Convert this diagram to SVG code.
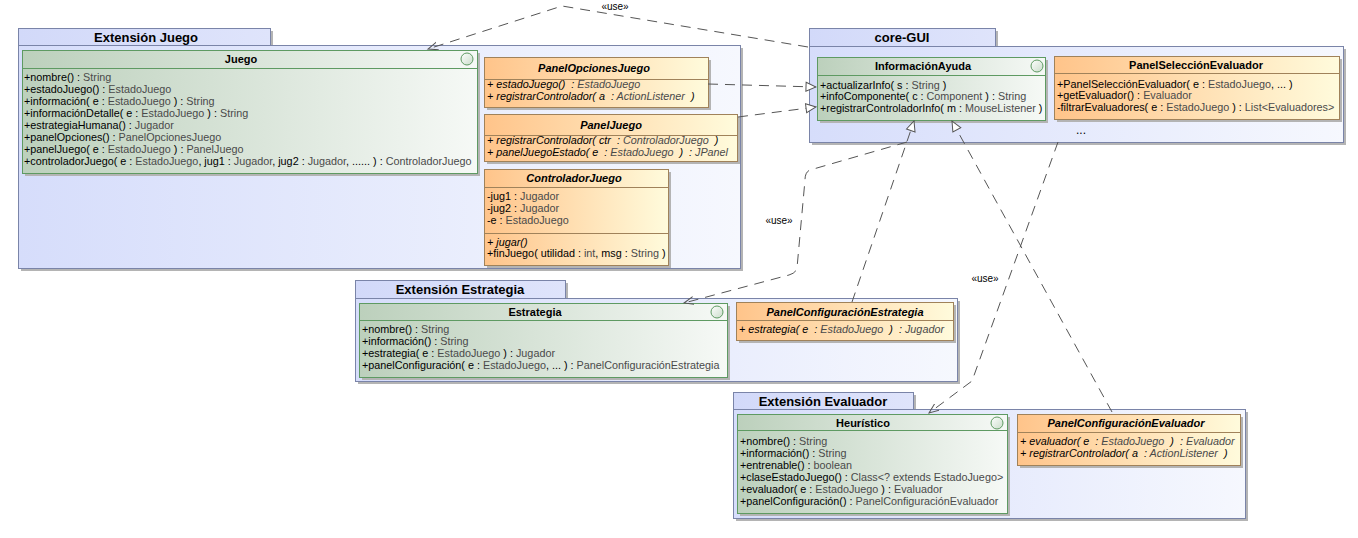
<svg xmlns="http://www.w3.org/2000/svg" width="1358" height="538" viewBox="0 0 1358 538">
<defs>
<linearGradient id="gPkg" x1="0" y1="0" x2="1" y2="0"><stop offset="0" stop-color="#d6ddfb"/><stop offset="1" stop-color="#f6f8fe"/></linearGradient>
<linearGradient id="gTab" x1="0" y1="0" x2="1" y2="0"><stop offset="0" stop-color="#d2d9f9"/><stop offset="1" stop-color="#dfe4fb"/></linearGradient>
<linearGradient id="gInt" x1="0" y1="0" x2="1" y2="0"><stop offset="0" stop-color="#bcd0bc"/><stop offset="1" stop-color="#f6f9f6"/></linearGradient>
<linearGradient id="gCls" x1="0" y1="0" x2="1" y2="0"><stop offset="0" stop-color="#ffc48a"/><stop offset="1" stop-color="#fffbdc"/></linearGradient>
<linearGradient id="gCir" x1="0" y1="0" x2="1" y2="1"><stop offset="0" stop-color="#ffffff"/><stop offset="1" stop-color="#c9dcc9"/></linearGradient>
<marker id="vee" markerWidth="12" markerHeight="10" refX="10" refY="4" orient="auto" markerUnits="userSpaceOnUse"><path d="M0,0 L10,4 L0,8" fill="none" stroke="#555" stroke-width="1"/></marker>
<marker id="tri" markerWidth="12" markerHeight="12" refX="11" refY="5.5" orient="auto" markerUnits="userSpaceOnUse"><path d="M1,1 L11,5.5 L1,10 Z" fill="#fff" stroke="#555" stroke-width="1"/></marker>
</defs>
<style>
text{font-family:"Liberation Sans",Arial,sans-serif;fill:#000}
.pk{font-size:13px;font-weight:bold;text-anchor:middle}
.hd{font-size:11px;font-weight:bold;text-anchor:middle}
.hi{font-size:11px;font-weight:bold;font-style:italic;text-anchor:middle}
.m{font-size:10.8px}
.mi{font-size:10.8px;font-style:italic;white-space:pre}
.t{fill:#4a4a4a}
.lbl{font-size:10px;text-anchor:middle}
.sh{fill:#b4b4b4}
.pb{fill:url(#gPkg);stroke:#7a84a8;stroke-width:1}
.pt{fill:url(#gTab);stroke:#7a84a8;stroke-width:1}
.ib{fill:url(#gInt);stroke:#5e9a62;stroke-width:1}
.il{stroke:#5e9a62;stroke-width:1}
.cb{fill:url(#gCls);stroke:#a0825a;stroke-width:1}
.cl{stroke:#a0825a;stroke-width:1}
.cir{fill:url(#gCir);stroke:#5e9a62;stroke-width:1}
.dash{fill:none;stroke:#555;stroke-width:1;stroke-dasharray:10,7}
</style>
<rect width="1358" height="538" fill="#fff"/>

<g id="pkg-extension-juego">
<rect class="sh" x="21" y="31" width="252" height="17"/>
<rect class="sh" x="21" y="48" width="722" height="223"/>
<rect class="pt" x="18.5" y="28.5" width="252" height="17"/>
<rect class="pb" x="18.5" y="45.5" width="722" height="223"/>
<text class="pk" x="146" y="42">Extensión Juego</text>
</g>

<g id="pkg-core-gui">
<rect class="sh" x="812" y="31" width="186" height="18"/>
<rect class="sh" x="812" y="49" width="534" height="96"/>
<rect class="pt" x="809.5" y="28.5" width="186" height="18"/>
<rect class="pb" x="809.5" y="46.5" width="534" height="96"/>
<text class="pk" x="902" y="42">core-GUI</text>
<text class="m" x="1076" y="134" style="font-size:12px">...</text>
</g>

<g id="pkg-extension-estrategia">
<rect class="sh" x="358" y="283" width="210" height="18"/>
<rect class="sh" x="358" y="301" width="602" height="83"/>
<rect class="pt" x="355.5" y="280.5" width="210" height="18"/>
<rect class="pb" x="355.5" y="298.5" width="602" height="83"/>
<text class="pk" x="460" y="294">Extensión Estrategia</text>
</g>

<g id="pkg-extension-evaluador">
<rect class="sh" x="736" y="395" width="180" height="17"/>
<rect class="sh" x="736" y="412" width="512" height="109"/>
<rect class="pt" x="733.5" y="392.5" width="180" height="17"/>
<rect class="pb" x="733.5" y="409.5" width="512" height="109"/>
<text class="pk" x="823" y="406">Extensión Evaluador</text>
</g>

<g id="cls-juego">
<rect class="sh" x="25" y="53" width="455" height="123"/>
<rect class="ib" x="22.5" y="50.5" width="455" height="123"/>
<line class="il" x1="22.5" y1="68.5" x2="477.5" y2="68.5"/>
<text class="hd" x="241" y="63">Juego</text>
<circle class="cir" cx="467" cy="59" r="6"/>
<text class="m" x="24" y="80.8">+nombre() : <tspan class="t">String</tspan></text>
<text class="m" x="24" y="92.8">+estadoJuego() : <tspan class="t">EstadoJuego</tspan></text>
<text class="m" x="24" y="104.8">+información( e : <tspan class="t">EstadoJuego</tspan> ) : <tspan class="t">String</tspan></text>
<text class="m" x="24" y="116.8">+informaciónDetalle( e : <tspan class="t">EstadoJuego</tspan> ) : <tspan class="t">String</tspan></text>
<text class="m" x="24" y="128.8">+estrategiaHumana() : <tspan class="t">Jugador</tspan></text>
<text class="m" x="24" y="140.8">+panelOpciones() : <tspan class="t">PanelOpcionesJuego</tspan></text>
<text class="m" x="24" y="152.8">+panelJuego( e : <tspan class="t">EstadoJuego</tspan> ) : <tspan class="t">PanelJuego</tspan></text>
<text class="m" x="24" y="164.8">+controladorJuego( e : <tspan class="t">EstadoJuego</tspan>, jug1 : <tspan class="t">Jugador</tspan>, jug2 : <tspan class="t">Jugador</tspan>, ...... ) : <tspan class="t">ControladorJuego</tspan></text>
</g>

<g id="cls-panel-opciones-juego">
<rect class="sh" x="487" y="60" width="224" height="50"/>
<rect class="cb" x="484.5" y="57.5" width="224" height="50"/>
<line class="cl" x1="484.5" y1="79.5" x2="708.5" y2="79.5"/>
<text class="hi" x="594" y="72">PanelOpcionesJuego</text>
<text class="mi" x="487" y="88.3">+ estadoJuego()  : <tspan class="t">EstadoJuego</tspan></text>
<text class="mi" x="487" y="99.8">+ registrarControlador( a  : <tspan class="t">ActionListener</tspan>  )</text>
</g>

<g id="cls-panel-juego">
<rect class="sh" x="487" y="117" width="253" height="47"/>
<rect class="cb" x="484.5" y="114.5" width="253" height="47"/>
<line class="cl" x1="484.5" y1="135.5" x2="737.5" y2="135.5"/>
<text class="hi" x="611" y="128.5">PanelJuego</text>
<text class="mi" x="487" y="144.3">+ registrarControlador( ctr  : <tspan class="t">ControladorJuego</tspan>  )</text>
<text class="mi" x="487" y="155.8">+ panelJuegoEstado( e  : <tspan class="t">EstadoJuego</tspan>  )  : <tspan class="t">JPanel</tspan></text>
</g>

<g id="cls-controlador-juego">
<rect class="sh" x="487" y="172" width="184" height="96"/>
<rect class="cb" x="484.5" y="169.5" width="184" height="96"/>
<line class="cl" x1="484.5" y1="187.5" x2="668.5" y2="187.5"/>
<line class="cl" x1="484.5" y1="233.5" x2="668.5" y2="233.5"/>
<text class="hi" x="574" y="182">ControladorJuego</text>
<text class="m" x="487" y="199.8">-jug1 : <tspan class="t">Jugador</tspan></text>
<text class="m" x="487" y="211.8">-jug2 : <tspan class="t">Jugador</tspan></text>
<text class="m" x="487" y="223.8">-e : <tspan class="t">EstadoJuego</tspan></text>
<text class="mi" x="487" y="245.8">+ jugar()</text>
<text class="m" x="487" y="257.3">+finJuego( utilidad : <tspan class="t">int</tspan>, msg : <tspan class="t">String</tspan> )</text>
</g>

<g id="cls-informacion-ayuda">
<rect class="sh" x="820" y="60" width="228" height="63"/>
<rect class="ib" x="817.5" y="57.5" width="228" height="63"/>
<line class="il" x1="817.5" y1="75.5" x2="1045.5" y2="75.5"/>
<text class="hd" x="923" y="70">InformaciónAyuda</text>
<circle class="cir" cx="1037" cy="66" r="6"/>
<text class="m" x="820" y="88.8">+actualizarInfo( s : <tspan class="t">String</tspan> )</text>
<text class="m" x="820" y="100.3">+infoComponente( c : <tspan class="t">Component</tspan> ) : <tspan class="t">String</tspan></text>
<text class="m" x="820" y="111.8">+registrarControladorInfo( m : <tspan class="t">MouseListener</tspan> )</text>
</g>

<g id="cls-panel-seleccion-evaluador">
<rect class="sh" x="1057" y="59" width="285" height="63"/>
<rect class="cb" x="1054.5" y="56.5" width="285" height="63"/>
<line class="cl" x1="1054.5" y1="73.5" x2="1339.5" y2="73.5"/>
<text class="hd" x="1196" y="68.5">PanelSelecciónEvaluador</text>
<text class="m" x="1057" y="87.8">+PanelSelecciónEvaluador( e : <tspan class="t">EstadoJuego</tspan>, ... )</text>
<text class="m" x="1057" y="99.3">+getEvaluador() : <tspan class="t">Evaluador</tspan></text>
<text class="m" x="1057" y="110.8">-filtrarEvaluadores( e : <tspan class="t">EstadoJuego</tspan> ) : <tspan class="t">List&lt;Evaluadores&gt;</tspan></text>
</g>

<g id="cls-estrategia">
<rect class="sh" x="362" y="306" width="368" height="74"/>
<rect class="ib" x="359.5" y="303.5" width="368" height="74"/>
<line class="il" x1="359.5" y1="320.5" x2="727.5" y2="320.5"/>
<text class="hd" x="535" y="315.5">Estrategia</text>
<circle class="cir" cx="717" cy="312" r="6"/>
<text class="m" x="362" y="332.8">+nombre() : <tspan class="t">String</tspan></text>
<text class="m" x="362" y="344.8">+información() : <tspan class="t">String</tspan></text>
<text class="m" x="362" y="356.8">+estrategia( e : <tspan class="t">EstadoJuego</tspan> ) : <tspan class="t">Jugador</tspan></text>
<text class="m" x="362" y="368.8">+panelConfiguración( e : <tspan class="t">EstadoJuego</tspan>, ... ) : <tspan class="t">PanelConfiguraciónEstrategia</tspan></text>
</g>

<g id="cls-panel-configuracion-estrategia">
<rect class="sh" x="739" y="305" width="217" height="38"/>
<rect class="cb" x="736.5" y="302.5" width="217" height="38"/>
<line class="cl" x1="736.5" y1="320.5" x2="953.5" y2="320.5"/>
<text class="hi" x="845" y="315.5">PanelConfiguraciónEstrategia</text>
<text class="mi" x="739" y="333.3">+ estrategia( e  : <tspan class="t">EstadoJuego</tspan>  )  : <tspan class="t">Jugador</tspan></text>
</g>

<g id="cls-heuristico">
<rect class="sh" x="740" y="417" width="270" height="99"/>
<rect class="ib" x="737.5" y="414.5" width="270" height="99"/>
<line class="il" x1="737.5" y1="430.5" x2="1007.5" y2="430.5"/>
<text class="hd" x="863" y="426.5">Heurístico</text>
<circle class="cir" cx="997" cy="423" r="6"/>
<text class="m" x="740" y="444.8">+nombre() : <tspan class="t">String</tspan></text>
<text class="m" x="740" y="456.8">+información() : <tspan class="t">String</tspan></text>
<text class="m" x="740" y="468.8">+entrenable() : <tspan class="t">boolean</tspan></text>
<text class="m" x="740" y="480.8">+claseEstadoJuego() : <tspan class="t">Class&lt;? extends EstadoJuego&gt;</tspan></text>
<text class="m" x="740" y="492.8">+evaluador( e : <tspan class="t">EstadoJuego</tspan> ) : <tspan class="t">Evaluador</tspan></text>
<text class="m" x="740" y="504.8">+panelConfiguración() : <tspan class="t">PanelConfiguraciónEvaluador</tspan></text>
</g>

<g id="cls-panel-configuracion-evaluador">
<rect class="sh" x="1020" y="417" width="223" height="51"/>
<rect class="cb" x="1017.5" y="414.5" width="223" height="51"/>
<line class="cl" x1="1017.5" y1="432.5" x2="1240.5" y2="432.5"/>
<text class="hi" x="1126" y="427">PanelConfiguraciónEvaluador</text>
<text class="mi" x="1020" y="445.3">+ evaluador( e  : <tspan class="t">EstadoJuego</tspan>  )  : <tspan class="t">Evaluador</tspan></text>
<text class="mi" x="1020" y="457.3">+ registrarControlador( a  : <tspan class="t">ActionListener</tspan>  )</text>
</g>

<g id="connectors">
<path class="dash" d="M808,47 L562,6 L428,49" marker-end="url(#vee)"/>
<text class="lbl" x="615" y="10">«use»</text>
<path class="dash" d="M708,84 L816,87" marker-end="url(#tri)"/>
<path class="dash" d="M738,117 L816,107" marker-end="url(#tri)"/>
<path class="dash" d="M907,142 L810,170 Q805,172 805,180 L797,268 Q796,273 789,275 L684,303" marker-end="url(#vee)"/>
<text class="lbl" x="779" y="224">«use»</text>
<path class="dash" d="M852,302 L914,121" marker-end="url(#tri)"/>
<path class="dash" d="M1112,412 L952,121" marker-end="url(#tri)"/>
<path class="dash" d="M1058,142 L972,381 L929,413" marker-end="url(#vee)"/>
<text class="lbl" x="985" y="282">«use»</text>
</g>
</svg>
